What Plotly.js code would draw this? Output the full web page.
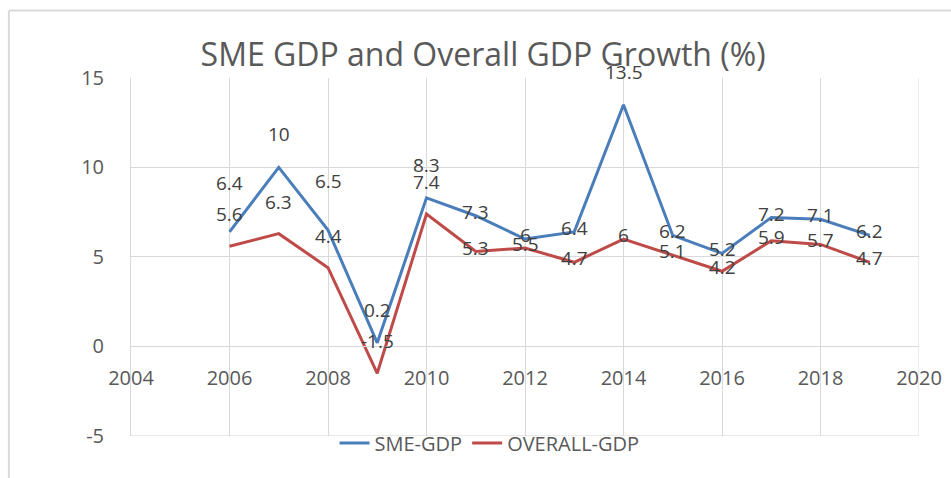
<!DOCTYPE html>
<html><head><meta charset="utf-8">
<script src="https://cdn.plot.ly/plotly-3.0.1.min.js"></script>
<style>body{margin:0;background:#fff}#c{width:951px;height:478px}</style>
</head><body><div id="c"></div>
<script>
const years = [2006,2007,2008,2009,2010,2011,2012,2013,2014,2015,2016,2017,2018,2019];
const smeGdp = [6.4,10,6.5,0.2,8.3,7.3,6,6.4,13.5,6.2,5.2,7.2,7.1,6.2];
const overallGdp = [5.6,6.3,4.4,-1.5,7.4,5.3,5.5,4.7,6,5.1,4.2,5.9,5.7,4.7];
const seriesNames = ['SME-GDP','OVERALL-GDP'];
const yTickVals = [-5,0,5,10,15];
const yTickText = ['-5','0','5','10','15'];

const yMin=-5, yMax=15;
const domY=[0.088,0.837];
const zeroPos = domY[0] + (0 - yMin)/(yMax-yMin)*(domY[1]-domY[0]);

// label vertical offsets (px), matching the reference placement
function smeShift(i){ if(years[i]===2006||years[i]===2008) return 49; if(years[i]<=2010||years[i]===2014) return 33; return 4; }
function ovShift(i){ if(years[i]<=2010) return 32; return 4; }

const lblFont={family:'Open Sans, sans-serif',size:19,color:'#404040'};
const ann=[];
years.forEach((y,i)=>{
  ann.push({x:y,y:smeGdp[i],xref:'x',yref:'y',text:String(smeGdp[i]),showarrow:false,yshift:smeShift(i),font:lblFont});
  ann.push({x:y,y:overallGdp[i],xref:'x',yref:'y',text:String(overallGdp[i]),showarrow:false,yshift:ovShift(i),font:lblFont});
});

const traces=[
 {x:years,y:smeGdp,name:seriesNames[0],type:'scatter',mode:'lines',line:{color:'#4A7EBB',width:3}},
 {x:years,y:overallGdp,name:seriesNames[1],type:'scatter',mode:'lines',line:{color:'#BE4B48',width:3}}
];
const layout={
 width:951,height:478,
 margin:{l:131,r:32,t:0,b:0},
 paper_bgcolor:'#fff',plot_bgcolor:'#fff',
 font:{family:'Open Sans, sans-serif',color:'#595959'},
 title:{text:'SME GDP and Overall GDP Growth (%)',x:0.508,xanchor:'center',y:0.885,yanchor:'middle',font:{family:'Open Sans, sans-serif',size:32,color:'#595959'}},
 xaxis:{range:[2004,2020],dtick:2,tick0:2004,anchor:'free',position:zeroPos,showgrid:true,gridcolor:'#D9D9D9',gridwidth:1,
   showline:true,linecolor:'#D9D9D9',ticks:'',tickfont:{size:20,color:'#595959'},ticklabelstandoff:14,zeroline:false,fixedrange:true,mirror:false},
 yaxis:{range:[yMin,yMax],tickvals:yTickVals,ticktext:yTickText,domain:domY,showgrid:true,gridcolor:'#D9D9D9',zeroline:true,zerolinecolor:'#D9D9D9',zerolinewidth:1,
   showline:true,linecolor:'#D9D9D9',ticks:'',tickfont:{size:20,color:'#595959'},ticklabelstandoff:22},
 showlegend:true,
 legend:{orientation:'h',x:0.455,xanchor:'center',y:0.073,yanchor:'middle',font:{size:20,color:'#595959'},bgcolor:'rgba(0,0,0,0)'},
 annotations:ann,
 shapes:[
  {type:'line',xref:'x',yref:'paper',x0:2020,x1:2020,y0:domY[0],y1:domY[1],line:{color:'#D9D9D9',width:1}},
  {type:'line',xref:'paper',yref:'y',x0:0,x1:1,y0:yMin,y1:yMin,line:{color:'#D9D9D9',width:1}},
  {type:'line',xref:'paper',yref:'paper',x0:-0.155,x1:1.05,y0:0.978,y1:0.978,line:{color:'#D9D9D9',width:2}},
  {type:'line',xref:'paper',yref:'paper',x0:-0.155,x1:-0.155,y0:0,y1:0.978,line:{color:'#D9D9D9',width:2}}
 ]
};
Plotly.newPlot('c',traces,layout,{displayModeBar:false,staticPlot:true});
</script></body></html>
